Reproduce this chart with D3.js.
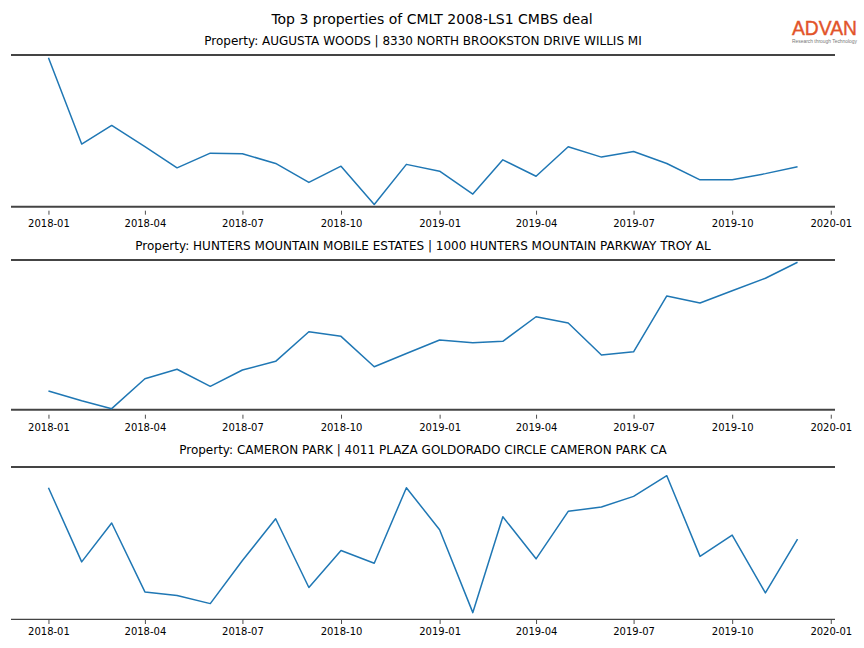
<!DOCTYPE html>
<html>
<head>
<meta charset="utf-8">
<script src="https://cdn.jsdelivr.net/npm/d3@7"></script>
<style>
  html, body { margin: 0; padding: 0; background: #fff; }
  svg { display: block; font-family: "DejaVu Sans", sans-serif; }
</style>
</head>
<body>
<svg id="chart" width="864" height="648"></svg>
<script>
// ---- Data (relative index values, 0-100 scale) ----
const months = ["2018-01","2018-02","2018-03","2018-04","2018-05","2018-06","2018-07","2018-08","2018-09","2018-10","2018-11","2018-12",
                "2019-01","2019-02","2019-03","2019-04","2019-05","2019-06","2019-07","2019-08","2019-09","2019-10","2019-11","2019-12"];

const augustaWoods = [98.2, 41.3, 53.6, 39.6, 25.6, 35.3, 34.9, 28.5, 16.0, 26.7, 1.5, 27.9,
                      23.4, 8.3, 30.9, 20.1, 39.5, 32.7, 36.4, 28.5, 17.7, 17.7, 21.8, 26.3];
const huntersMountain = [12.5, 6.0, 0.7, 20.7, 27.0, 15.6, 26.5, 32.3, 52.1, 49.0, 28.7, 37.5,
                         46.6, 44.8, 45.7, 62.1, 57.9, 36.5, 38.7, 76.0, 71.3, 79.5, 87.8, 98.5];
const cameronPark = [86.4, 37.7, 63.2, 18.0, 15.6, 10.3, 38.6, 66.0, 20.9, 45.2, 36.8, 86.4,
                     58.8, 4.4, 67.3, 39.7, 70.9, 73.7, 80.7, 94.3, 41.3, 55.3, 17.3, 52.6];

const panelTitles = [
  "Property: AUGUSTA WOODS | 8330 NORTH BROOKSTON DRIVE WILLIS MI",
  "Property: HUNTERS MOUNTAIN MOBILE ESTATES | 1000 HUNTERS MOUNTAIN PARKWAY TROY AL",
  "Property: CAMERON PARK | 4011 PLAZA GOLDORADO CIRCLE CAMERON PARK CA"
];
const tickLabels = ["2018-01","2018-04","2018-07","2018-10","2019-01","2019-04","2019-07","2019-10","2020-01"];
const mainTitle = "Top 3 properties of CMLT 2008-LS1 CMBS deal";

// ---- Layout ----
const svg = d3.select("#chart");
const parse = d3.timeParse("%Y-%m");
const dates = months.map(parse);
const tickDates = tickLabels.map(parse);

const x0 = 11, x1 = 835;
const first = dates[0], last = dates[dates.length - 1];
const span = last - first;
const xScale = d3.scaleTime()
  .domain([new Date(+first - span * 0.05), new Date(+last + span * 0.05)])
  .range([x0, x1]);

const panels = [
  { values: augustaWoods,   top: 55,  bottom: 206.7, titleY: 45,  tickGap: 4, bottomW: 2,   labelY: 226.7 },
  { values: huntersMountain,top: 260, bottom: 409.7, titleY: 250, tickGap: 5, bottomW: 2,   labelY: 431 },
  { values: cameronPark,    top: 467, bottom: 619.3, titleY: 454, tickGap: 0.7, bottomW: 1.2, labelY: 635 }
];

svg.append("text")
  .attr("x", 432).attr("y", 23.5)
  .attr("text-anchor", "middle")
  .attr("font-size", 14).attr("fill", "#000")
  .text(mainTitle);

// Logo
svg.append("text")
  .attr("x", 792).attr("y", 34.5)
  .attr("font-family", "'Liberation Sans', Arial, sans-serif")
  .attr("font-size", 20).attr("fill", "#e2542a")
  .attr("stroke", "#e2542a").attr("stroke-width", 0.4)
  .attr("textLength", 65).attr("lengthAdjust", "spacingAndGlyphs")
  .text("ADVAN");
svg.append("text")
  .attr("x", 792).attr("y", 42.5)
  .attr("font-family", "'Liberation Sans', Arial, sans-serif")
  .attr("font-size", 4.5).attr("fill", "#777")
  .attr("textLength", 65).attr("lengthAdjust", "spacingAndGlyphs")
  .text("Research through Technology");

panels.forEach((p, i) => {
  const y = d3.scaleLinear().domain([0, 100]).range([p.bottom, p.top]);
  const g = svg.append("g");

  g.append("text")
    .attr("x", (x0 + x1) / 2).attr("y", p.titleY)
    .attr("text-anchor", "middle")
    .attr("font-size", 12).attr("fill", "#000")
    .text(panelTitles[i]);

  // spines
  g.append("line")
    .attr("x1", x0).attr("x2", x1)
    .attr("y1", p.top).attr("y2", p.top)
    .attr("stroke", "#444").attr("stroke-width", 2);
  g.append("line")
    .attr("x1", x0).attr("x2", x1)
    .attr("y1", p.bottom).attr("y2", p.bottom)
    .attr("stroke", "#444").attr("stroke-width", p.bottomW);

  // x axis ticks
  const ax = g.append("g")
    .attr("transform", `translate(0,${p.bottom + p.tickGap})`)
    .call(d3.axisBottom(xScale)
      .tickValues(tickDates)
      .tickFormat(d3.timeFormat("%Y-%m"))
      .tickSize(4)
      .tickPadding(3));
  ax.select(".domain").remove();
  ax.selectAll(".tick line").attr("stroke", "#222").attr("stroke-width", 0.8);
  ax.selectAll(".tick text")
    .attr("font-family", "'DejaVu Sans', sans-serif")
    .attr("font-size", 10).attr("fill", "#000")
    .attr("dy", null)
    .attr("y", p.labelY - p.bottom - p.tickGap);

  // line
  const line = d3.line()
    .x((d, j) => xScale(dates[j]))
    .y(d => y(d));
  g.append("path")
    .datum(p.values)
    .attr("d", line)
    .attr("fill", "none")
    .attr("stroke", "#1f77b4")
    .attr("stroke-width", 1.5)
    .attr("stroke-linejoin", "round");
});
</script>
</body>
</html>
